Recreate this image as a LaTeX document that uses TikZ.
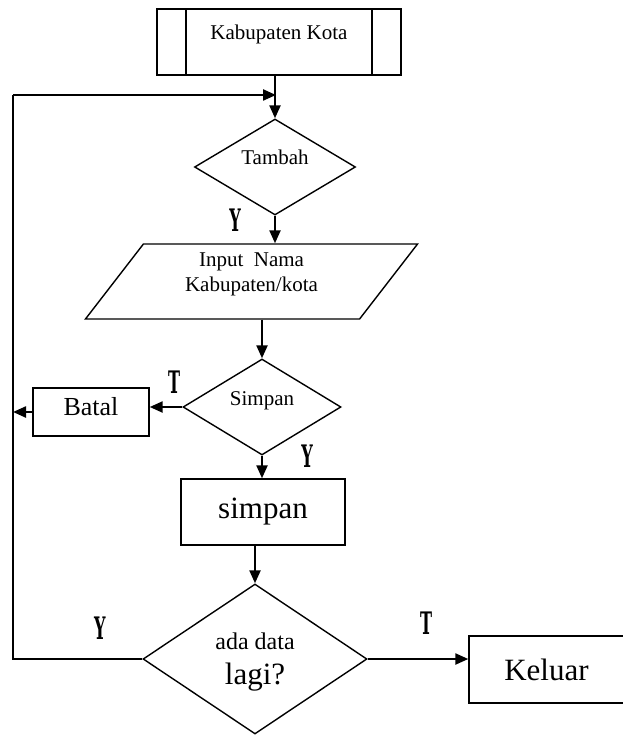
\documentclass[tikz,border=0pt]{standalone}
\usepackage{fontspec}
\setmainfont{Liberation Serif}
\newfontfamily\lblfont{DejaVu Serif}
\usetikzlibrary{shapes.geometric,arrows.meta}
\newcommand{\yt}[1]{\scalebox{0.52}[1]{\lblfont\fontsize{31}{31}\selectfont\bfseries #1}}
\begin{document}
\begin{tikzpicture}[x=1pt,y=-1pt,
box/.style={draw,line width=1.4pt,inner sep=0pt},
dec/.style={box,diamond,font=\fontsize{21}{25}\selectfont,text height=10pt,text depth=14pt},
arw/.style={-{Triangle[length=13pt,width=11pt]},line width=2.3pt},
lbl/.style={inner sep=0pt}
]
\useasboundingbox(0,0)rectangle(622,735);
%\draw[help lines,step=50](0,0)grid(622,735);
\node[box,minimum width=244,minimum height=66,font=\fontsize{21}{25}\selectfont,text height=10pt,text depth=14pt,
  path picture={\draw[line width=1.4pt]([xshift=29pt]path picture bounding box.north west)--([xshift=29pt]path picture bounding box.south west)
  ([xshift=-29pt]path picture bounding box.north east)--([xshift=-29pt]path picture bounding box.south east);}]at(279,42)(kab){Kabupaten Kota};
\node[dec,minimum width=161,minimum height=96]at(275,167)(tambah){Tambah};
\node[box,trapezium,trapezium left angle=49,trapezium right angle=131,trapezium stretches=true,
  minimum width=333,minimum height=75,align=center,font=\fontsize{21}{25}\selectfont,
  text height=30pt,text depth=11pt]at(251.5,281.5)(input){Input\ \ Nama\\Kabupaten/kota};
\node[dec,minimum width=158,minimum height=96]at(262,407)(simpan){Simpan};
\node[box,minimum width=116,minimum height=48,font=\fontsize{26}{30}\selectfont,text height=12pt,text depth=5pt]at(91,412)(batal){Batal};
\node[box,minimum width=164,minimum height=66,font=\fontsize{31}{35}\selectfont]at(263,512)(simpanbox){simpan};
\node[box,diamond,minimum width=224,minimum height=150,align=center,font=\fontsize{24}{35}\selectfont,
  text height=50pt,text depth=0pt]at(255,659)(lagi){ada data\\{\fontsize{31}{35}\selectfont lagi?}};
\node[box,minimum width=155,minimum height=67,font=\fontsize{31}{35}\selectfont]at(546.5,669.5)(keluar){Keluar};

% labels Y / T
\node[lbl]at(235,220)(y1){\yt{Y}};
\node[lbl]at(174,382)(t1){\yt{T}};
\node[lbl]at(307,456)(y2){\yt{Y}};
\node[lbl]at(100,628)(y3){\yt{Y}};
\node[lbl]at(426,623)(t2){\yt{T}};

\coordinate(top)at(276,95);
\coordinate(back)at(13,95);

\draw[arw](tambah.north|-kab.south)--(tambah.north);
\draw[arw](tambah.south)--(tambah.south|-input.north);
\draw[arw](simpan.north|-input.south)--(simpan.north);
\draw[arw](simpan.west)--(simpan.west-|batal.east);
\draw[arw](batal.west)--(batal.west-|back);
\draw[arw](simpan.south)--(simpan.south|-simpanbox.north);
\draw[arw](lagi.north|-simpanbox.south)--(lagi.north);
\draw[arw](lagi.east)--(lagi.east-|keluar.west);
\draw[line width=1.6pt](lagi.west)-|(back);
\draw[arw](back)--(top);
\end{tikzpicture}
\end{document}
